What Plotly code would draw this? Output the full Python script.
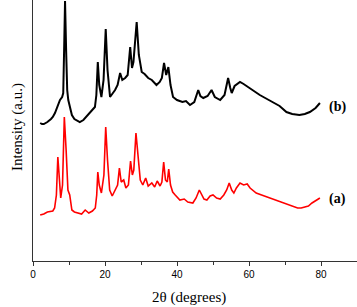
import plotly.graph_objects as go

# 2-theta positions (degrees) and intensities (a.u.)
two_theta_a = [2.0, 3.0, 4.0, 5.0, 5.5, 6.0, 6.5, 6.9, 7.3, 7.7, 8.2, 8.7, 9.2, 9.7, 10.2, 10.8,
               11.5, 12.5, 13.5, 14.5, 15.5, 16.5, 17.3, 17.7, 18.0, 18.4, 19.0, 19.7, 20.2, 20.7,
               21.3, 22.0, 22.8, 23.5, 24.0, 24.5, 25.2, 25.8, 26.5, 27.1, 27.6, 28.0, 28.6, 29.2,
               29.8, 30.5, 31.3, 32.0, 33.0, 33.8, 34.5, 35.3, 35.8, 36.3, 36.8, 37.3, 37.7, 38.2,
               38.8, 39.5, 40.8, 42.0, 43.0, 44.4, 45.3, 46.2, 46.8, 47.5, 48.3, 49.2, 50.0, 51.0,
               52.0, 53.0, 53.8, 54.5, 55.2, 55.8, 56.5, 57.5, 58.5, 59.5, 60.3, 61.0, 62.0, 63.5,
               65.0, 66.5, 68.0, 69.5, 71.0, 72.5, 73.5, 74.5, 75.5, 76.5, 77.5, 78.5, 79.7]
intensity_a = [46, 47, 49, 50, 50, 53, 66, 104, 81, 63, 76, 144, 111, 71, 66, 51,
               49, 48, 47, 51, 48, 50, 53, 66, 89, 76, 68, 86, 134, 101,
               71, 65, 71, 76, 93, 79, 81, 73, 76, 100, 86, 91, 128, 101,
               81, 76, 83, 75, 78, 74, 80, 75, 79, 99, 81, 79, 92, 76,
               69, 66, 61, 62, 59, 58, 63, 71, 66, 62, 61, 65, 66, 63,
               62, 66, 71, 78, 71, 68, 73, 78, 76, 77, 73, 71, 68, 66,
               64, 62, 60, 58, 56, 54, 53, 53, 54, 55, 58, 60, 63]

two_theta_b = [2.0, 2.5, 3.0, 4.0, 5.0, 5.5, 6.1, 6.8, 7.5, 8.1, 8.4, 8.7, 8.9, 9.2, 9.5, 9.8,
               10.3, 10.8, 11.5, 12.3, 13.0, 14.0, 15.3, 16.3, 17.2, 17.6, 18.0, 18.4, 19.0, 19.6,
               20.2, 20.7, 21.4, 22.2, 22.8, 23.5, 24.2, 24.8, 25.6, 26.3, 27.0, 27.5, 27.9, 28.8,
               29.4, 30.2, 31.0, 32.0, 33.0, 34.3, 35.2, 35.8, 36.4, 37.0, 37.6, 38.2, 38.9, 40.0,
               41.5, 42.5, 43.6, 44.8, 45.9, 46.5, 47.3, 48.5, 49.6, 50.5, 52.0, 53.2, 54.2, 54.8,
               55.2, 56.0, 57.5, 58.5, 59.7, 61.0, 63.0, 65.0, 66.7, 68.5, 70.4, 72.0, 74.0, 75.5,
               76.9, 78.5, 79.7]
intensity_b = [138, 137, 137, 139, 142, 144, 148, 154, 161, 164, 168, 221, 260, 211, 171, 161,
               153, 146, 142, 140, 139, 141, 146, 150, 154, 166, 199, 176, 164, 181,
               232, 191, 164, 168, 171, 176, 188, 181, 183, 186, 214, 193, 199, 239,
               206, 189, 187, 183, 181, 176, 179, 183, 198, 186, 194, 176, 164, 161,
               159, 160, 156, 159, 171, 165, 163, 165, 171, 164, 161, 166, 183, 173,
               168, 175, 179, 177, 174, 171, 166, 162, 159, 155, 149, 147, 146, 147,
               149, 153, 158]

x_ticks = [0, 20, 40, 60, 80]
labels = ["(b)", "(a)"]

fig = go.Figure()
fig.add_trace(go.Scatter(x=two_theta_a, y=intensity_a, mode="lines",
                         line=dict(color="#ff0000", width=1.6), showlegend=False))
fig.add_trace(go.Scatter(x=two_theta_b, y=intensity_b, mode="lines",
                         line=dict(color="#000000", width=2.0), showlegend=False))

fig.add_annotation(x=81.7, y=154, text="<b>" + labels[0] + "</b>", showarrow=False,
                   xanchor="left", yanchor="middle",
                   font=dict(family="Liberation Serif", size=14, color="black"))
fig.add_annotation(x=81.7, y=62, text="<b>" + labels[1] + "</b>", showarrow=False,
                   xanchor="left", yanchor="middle",
                   font=dict(family="Liberation Serif", size=14, color="black"))

# axis titles placed as paper annotations
fig.add_annotation(xref="paper", yref="paper", x=(189 - 33) / 324, y=(261 - 297) / 261,
                   text="2θ (degrees)", showarrow=False, xanchor="center", yanchor="middle",
                   font=dict(family="Liberation Serif, Times New Roman, serif", size=15,
                             color="black"))
fig.add_annotation(xref="paper", yref="paper", x=(17 - 33) / 324, y=(261 - 127) / 261,
                   text="Intensity (a.u.)", textangle=-90, showarrow=False,
                   xanchor="center", yanchor="middle",
                   font=dict(family="Liberation Serif", size=15, color="black"))

fig.update_layout(
    width=357, height=307,
    margin=dict(l=33, r=0, t=0, b=46, autoexpand=False),
    plot_bgcolor="white", paper_bgcolor="white",
    xaxis=dict(range=[0, 90], tickvals=x_ticks, ticks="outside", ticklen=4,
               tickwidth=1, tickcolor="#333", showline=True, linecolor="#333",
               linewidth=1, showgrid=False, zeroline=False, automargin=False,
               minor=dict(dtick=10, ticks="outside", ticklen=3, tickcolor="#333"),
               tickfont=dict(family="Liberation Sans", size=10, color="black")),
    yaxis=dict(range=[0, 261], showticklabels=False, ticks="", showline=True,
               linecolor="#333", linewidth=1, showgrid=False, zeroline=False,
               automargin=False),
)

fig.write_html("out.html", config={"displayModeBar": False},
               post_script="document.body.style.margin='0';document.body.style.overflow='hidden';")
